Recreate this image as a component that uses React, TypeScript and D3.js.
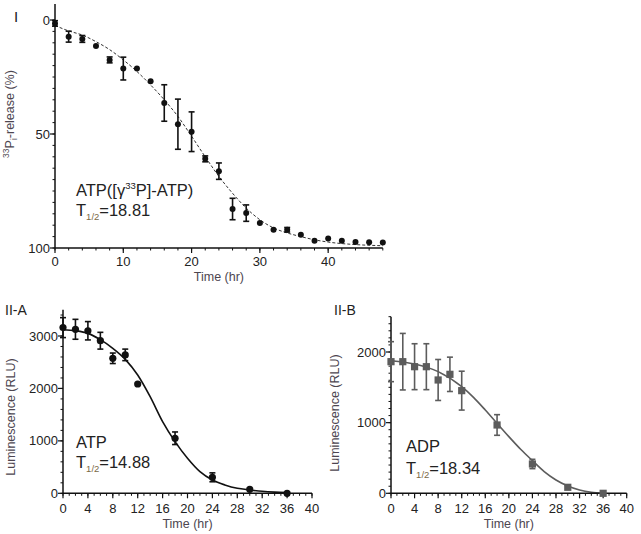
import * as d3 from 'd3';

// Panel I: 33Pi release (%), axis reversed (0 at top)
const timeI = [0, 2, 4, 6, 8, 10, 12, 14, 16, 18, 20, 22, 24, 26, 28, 30, 32, 34, 36, 38, 40, 42, 44, 46, 48];
const releaseI = [1.5, 7.3, 8.3, 11.4, 17.5, 21.3, 21.3, 26.9, 36.4, 45.7, 49, 60.9, 66.3, 82.9, 84.7, 89, 92, 92, 94.2, 96.8, 95.8, 96.8, 97.4, 97.5, 97.6];
const errI = [1.2, 2.4, 1.5, 0, 1.3, 5, 0, 0, 8, 11, 8.7, 1.3, 3.6, 4.7, 3.6, 0, 0, 1, 0, 0, 0, 0, 0, 0, 0];
const fitTimeI = [0, 2, 4, 6, 8, 10, 12, 14, 16, 18, 20, 22, 24, 26, 28, 30, 32, 34, 36, 38, 40, 44, 48];
const fitI = [2.4, 4.8, 6.6, 9.5, 13, 17.5, 22.6, 28.5, 35, 42.3, 51, 60, 68.6, 76, 82.5, 87.6, 91.2, 93.4, 95, 96.4, 97.4, 98.5, 99];
const xTicksI = [0, 10, 20, 30, 40];
const yTicksI = [0, 50, 100];

// Panel II-A: ATP luminescence
const timeA = [0, 2, 4, 6, 8, 10, 12, 18, 24, 30, 36];
const lumA = [3160, 3128, 3100, 2910, 2575, 2640, 2085, 1050, 305, 76, 0];
const errA = [190, 190, 175, 160, 100, 110, 0, 120, 85, 0, 0];
const fitTimeA = [0, 2, 4, 6, 8, 10, 12, 14, 16, 18, 20, 22, 24, 26, 28, 30, 32, 34, 36];
const fitA = [3120, 3100, 3050, 2930, 2765, 2555, 2257, 1843, 1367, 985, 668, 413, 254, 159, 95, 64, 38, 22, 13];

// Panel II-B: ADP luminescence
const timeB = [0, 2, 4, 6, 8, 10, 12, 18, 24, 30, 36];
const lumB = [1863, 1863, 1792, 1792, 1604, 1684, 1453, 967, 415, 85, 0];
const errB = [283, 400, 325, 325, 290, 243, 275, 146, 66, 0, 0];
const fitTimeB = [0, 4, 8, 12, 14, 16, 18, 20, 22, 24, 26, 28, 30, 32, 34, 36];
const fitB = [1877, 1830, 1722, 1509, 1358, 1179, 990, 802, 623, 462, 307, 189, 104, 47, 14, 0];

const xTicksII = [0, 4, 8, 12, 16, 20, 24, 28, 32, 36, 40];
const yTicksA = [0, 1000, 2000, 3000];
const yTicksB = [0, 1000, 2000];

const FONT = 'Arial, "Liberation Sans", sans-serif';
const TEXT = '#222';
const LABEL = '#4d4650';
const SUB = '#7a6a45';

type PanelProps = {
  xDomain: [number, number];
  xRange: [number, number];
  xEnd: number;
  yDomain: [number, number];
  yRange: [number, number];
  yAxisTop: number;
  xTicks: number[];
  xMinor: number[];
  yTicks: number[];
  yMinor: number[];
  times: number[];
  values: number[];
  errs: number[];
  fitT: number[];
  fitV: number[];
  color: string;
  marker: 'circle' | 'square';
  markerSize: number;
  dashed?: boolean;
  tickLabelY: number;
  xTitleY: number;
  yTitle: React.ReactNode;
  yTitleX: number;
  yTitleY: number;
};

function Panel(p: PanelProps) {
  const x = d3.scaleLinear().domain(p.xDomain).range(p.xRange);
  const y = d3.scaleLinear().domain(p.yDomain).range(p.yRange);
  const x0 = x(p.xDomain[0]);
  const yBase = y(p.yDomain[0]) > y(p.yDomain[1]) ? y(p.yDomain[0]) : y(p.yDomain[1]);
  const line = d3
    .line<number>()
    .x((_, i) => x(p.fitT[i]))
    .y((d) => y(d))
    .curve(d3.curveMonotoneX);
  const cap = 3;
  return (
    <g fontFamily={FONT}>
      {/* fit curve */}
      <path
        d={line(p.fitV) ?? ''}
        fill="none"
        stroke={p.dashed ? '#333' : p.color}
        strokeWidth={p.dashed ? 1 : 1.6}
        strokeDasharray={p.dashed ? '3,2' : undefined}
      />
      {/* axes */}
      <line x1={x0} x2={x(p.xEnd)} y1={yBase} y2={yBase} stroke="#111" strokeWidth={1.5} />
      <line x1={x0} x2={x0} y1={y(p.yAxisTop)} y2={yBase} stroke="#111" strokeWidth={1.5} />
      {p.xMinor.map((t) => (
        <line key={'xm' + t} x1={x(t)} x2={x(t)} y1={yBase} y2={yBase + 2.5} stroke="#111" strokeWidth={1} />
      ))}
      {p.xTicks.map((t) => (
        <g key={'x' + t}>
          <line x1={x(t)} x2={x(t)} y1={yBase} y2={yBase + 5} stroke="#111" strokeWidth={1.2} />
          <text x={x(t)} y={p.tickLabelY} textAnchor="middle" fontSize={13} fill={TEXT}>
            {t}
          </text>
        </g>
      ))}
      {p.yMinor.map((v) => (
        <line key={'ym' + v} x1={x0 - 2.5} x2={x0} y1={y(v)} y2={y(v)} stroke="#111" strokeWidth={1} />
      ))}
      {p.yTicks.map((v) => (
        <g key={'y' + v}>
          <line x1={x0 - 5} x2={x0} y1={y(v)} y2={y(v)} stroke="#111" strokeWidth={1.2} />
          <text x={x0 - 5} y={y(v) + 4.5} textAnchor="end" fontSize={13} fill={TEXT}>
            {v}
          </text>
        </g>
      ))}
      <text
        x={(x0 + x(p.xEnd)) / 2}
        y={p.xTitleY}
        textAnchor="middle"
        fontSize={12.5}
        fill={LABEL}
      >
        Time (hr)
      </text>
      <text
        transform={`translate(${p.yTitleX},${p.yTitleY}) rotate(-90)`}
        textAnchor="middle"
        fontSize={12.5}
        fill={LABEL}
      >
        {p.yTitle}
      </text>
      {/* error bars */}
      {p.times.map((t, i) =>
        p.errs[i] > 0 ? (
          <g key={'e' + i} stroke={p.color} strokeWidth={1.6}>
            <line x1={x(t)} x2={x(t)} y1={y(p.values[i] - p.errs[i])} y2={y(p.values[i] + p.errs[i])} />
            <line x1={x(t) - cap} x2={x(t) + cap} y1={y(p.values[i] - p.errs[i])} y2={y(p.values[i] - p.errs[i])} />
            <line x1={x(t) - cap} x2={x(t) + cap} y1={y(p.values[i] + p.errs[i])} y2={y(p.values[i] + p.errs[i])} />
          </g>
        ) : null,
      )}
      {/* markers */}
      {p.times.map((t, i) =>
        p.marker === 'circle' ? (
          <circle key={'m' + i} cx={x(t)} cy={y(p.values[i])} r={p.markerSize} fill={p.color} />
        ) : (
          <rect
            key={'m' + i}
            x={x(t) - p.markerSize}
            y={y(p.values[i]) - p.markerSize}
            width={p.markerSize * 2}
            height={p.markerSize * 2}
            fill={p.color}
          />
        ),
      )}
    </g>
  );
}

export default function App() {
  return (
    <svg
      width={641}
      height={534}
      style={{ position: 'absolute', left: 0, top: 0, background: '#fff' }}
    >
      <rect width={641} height={534} fill="#fff" />
      <Panel
        xDomain={[0, 48]}
        xRange={[55, 382.8]}
        xEnd={48}
        yDomain={[0, 100]}
        yRange={[20, 248]}
        yAxisTop={-7}
        xTicks={xTicksI}
        xMinor={d3.range(0, 49, 2)}
        yTicks={yTicksI}
        yMinor={d3.range(0, 101, 5)}
        times={timeI}
        values={releaseI}
        errs={errI}
        fitT={fitTimeI}
        fitV={fitI}
        color="#111"
        marker="circle"
        markerSize={3}
        dashed
        tickLabelY={266}
        xTitleY={281}
        yTitle={
          <>
            <tspan fontSize={8.5} dy={-5}>33</tspan>
            <tspan dy={5}>P</tspan>
            <tspan fontSize={8.5} dy={3}>i</tspan>
            <tspan dy={-3}>-release (%)</tspan>
          </>
        }
        yTitleX={14}
        yTitleY={114}
      />
      <Panel
        xDomain={[0, 40]}
        xRange={[63, 312]}
        xEnd={40}
        yDomain={[0, 3000]}
        yRange={[493.3, 336]}
        yAxisTop={3500}
        xTicks={xTicksII}
        xMinor={d3.range(0, 41, 1)}
        yTicks={yTicksA}
        yMinor={d3.range(0, 3501, 200)}
        times={timeA}
        values={lumA}
        errs={errA}
        fitT={fitTimeA}
        fitV={fitA}
        color="#111"
        marker="circle"
        markerSize={3.6}
        tickLabelY={513}
        xTitleY={528}
        yTitle="Luminescence (RLU)"
        yTitleX={15}
        yTitleY={417}
      />
      <Panel
        xDomain={[0, 40]}
        xRange={[391, 626.7]}
        xEnd={40}
        yDomain={[0, 2000]}
        yRange={[493.3, 352]}
        yAxisTop={2500}
        xTicks={xTicksII}
        xMinor={d3.range(0, 41, 1)}
        yTicks={yTicksB}
        yMinor={d3.range(0, 2501, 100)}
        times={timeB}
        values={lumB}
        errs={errB}
        fitT={fitTimeB}
        fitV={fitB}
        color="#5c5c5c"
        marker="square"
        markerSize={3.6}
        tickLabelY={513}
        xTitleY={528}
        yTitle="Luminescence (RLU)"
        yTitleX={339}
        yTitleY={413}
      />
      {/* panel tags and annotations */}
      <g fontFamily={FONT} fill={TEXT}>
        <text x={14} y={22} fontSize={15}>I</text>
        <text x={5} y={315} fontSize={14}>II-A</text>
        <text x={334} y={315} fontSize={14}>II-B</text>

        <text x={76} y={196} fontSize={16.5}>
          ATP([
          <tspan>γ</tspan>
          <tspan fontSize={9.5} dy={-7}>33</tspan>
          <tspan dy={7}>P]-ATP)</tspan>
        </text>
        <text x={76} y={216} fontSize={16.5}>
          T<tspan fontSize={9.5} dy={4} fill={SUB}>1/2</tspan>
          <tspan dy={-4}>=18.81</tspan>
        </text>

        <text x={76} y={448} fontSize={16.5}>ATP</text>
        <text x={76} y={468} fontSize={16.5}>
          T<tspan fontSize={9.5} dy={4} fill={SUB}>1/2</tspan>
          <tspan dy={-4}>=14.88</tspan>
        </text>

        <text x={406} y={452} fontSize={16.5}>ADP</text>
        <text x={406} y={474} fontSize={16.5}>
          T<tspan fontSize={9.5} dy={4} fill={SUB}>1/2</tspan>
          <tspan dy={-4}>=18.34</tspan>
        </text>
      </g>
    </svg>
  );
}
